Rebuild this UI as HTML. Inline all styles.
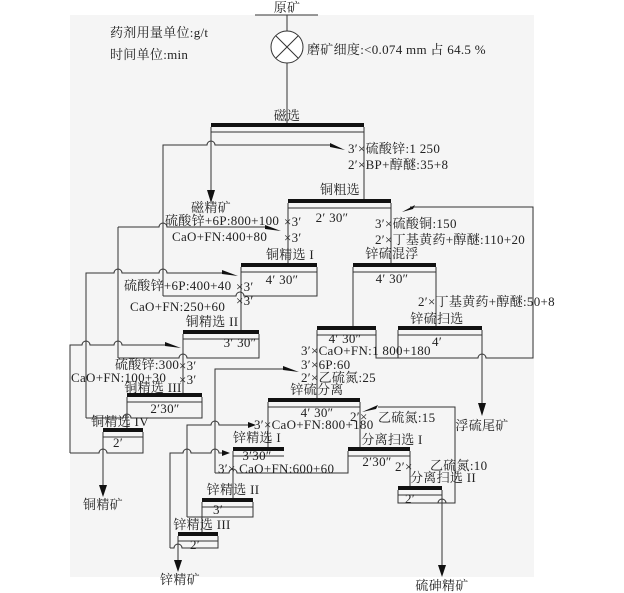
<!DOCTYPE html>
<html><head><meta charset="utf-8"><style>
html,body{margin:0;padding:0;background:#fff}
svg{display:block}
text{font-family:"Liberation Serif","Noto Serif CJK SC",serif;font-size:13px;letter-spacing:0.3px;fill:#222}
.m{text-anchor:middle}
</style></head><body>
<svg width="624" height="593" viewBox="0 0 624 593" xmlns="http://www.w3.org/2000/svg">
<rect x="70" y="15" width="464" height="562" fill="#f5f5f5"/>
<g fill="none" stroke="#333" stroke-width="1">
<path d="M255 15H318M287 15V31M287 63V123"/>
<circle cx="287" cy="47" r="16" fill="#fff"/>
<path d="M276 36L298 58M298 36L276 58"/>
<path d="M163 296V145H207A4 4 0 0 1 215 145H330"/>
<path d="M211 127V192M364 127V199"/>
<path d="M288 203V263M391 203V263"/>
<path d="M241 267V330M317 267V296H244A4 4 0 0 0 236 296H163"/>
<path d="M118 227V358M118 227H159A4 4 0 0 1 167 227H268"/>
<path d="M86 418V273H114A4 4 0 0 1 122 273H159A4 4 0 0 1 167 273H225"/>
<path d="M259 334V358H187A4 4 0 0 0 179 358H118M183 334V393"/>
<path d="M70 453V345H82A4 4 0 0 1 90 345H114A4 4 0 0 1 122 345H167"/>
<path d="M202 397V418H131A4 4 0 0 0 123 418H86M127 397V428"/>
<path d="M143 432V453H107A4 4 0 0 0 99 453H70M103 432V488"/>
<path d="M353 267V326M436 267V326M317 330V398"/>
<path d="M376 330V358H478A4 4 0 0 1 486 358H533V207H410"/>
<path d="M398 330V358M482 330V405"/>
<path d="M268 402V447M360 402V447"/>
<path d="M215 473V369H286"/>
<path d="M187 517V425H211A4 4 0 0 1 219 425H252"/>
<path d="M233 451V498M348 451V473H237A4 4 0 0 0 229 473H215"/>
<path d="M170 548V453H183A4 4 0 0 1 191 453H211A4 4 0 0 1 219 453H225"/>
<path d="M253 502V517H187M202 502V532"/>
<path d="M218 536V548H182A4 4 0 0 0 174 548H170M178 536V563"/>
<path d="M410 451V486M442 490V565"/>
<path d="M398 490V503H446A4 4 0 0 0 438 503M446 503H455V407H378"/>
<path d="M211 132H364M288 208H391M241 272H317M353 272H436M183 339H259M317 335H376M398 335H482M127 402H202M268 407H360M103 437H143M233 456H284M348 456H410M202 507H253M398 495H442M178 541H218"/>
</g>
<g fill="#111">
<rect x="211" y="123" width="153" height="4"/>
<rect x="288" y="199" width="103" height="4"/>
<rect x="241" y="263" width="76" height="4"/>
<rect x="353" y="263" width="83" height="4"/>
<rect x="183" y="330" width="76" height="4"/>
<rect x="317" y="326" width="59" height="4"/>
<rect x="398" y="326" width="84" height="4"/>
<rect x="127" y="393" width="75" height="4"/>
<rect x="268" y="398" width="92" height="4"/>
<rect x="103" y="428" width="40" height="4"/>
<rect x="233" y="447" width="51" height="4"/>
<rect x="348" y="447" width="62" height="4"/>
<rect x="202" y="498" width="51" height="4"/>
<rect x="398" y="486" width="44" height="4"/>
<rect x="178" y="532" width="40" height="4"/>
<polygon points="330,143 345,150 330,147"/>
<polygon points="207,190 215,190 211,203"/>
<polygon points="265,225 281,231 265,229"/>
<polygon points="222,270 238,276 222,274"/>
<polygon points="165,342 181,348 165,346"/>
<polygon points="99,485 107,485 103,497"/>
<polygon points="415,205 402,212 413,209"/>
<polygon points="478,403 486,403 482,416"/>
<polygon points="283,366 299,372 283,370"/>
<polygon points="248,422 256,425 248,428"/>
<polygon points="222,450 230,453 222,456"/>
<polygon points="174,560 182,560 178,572"/>
<polygon points="438,565 446,565 442,577"/>
<polygon points="378,405 362,412 376,409"/>
</g>
<text class="m" x="287" y="12">原矿</text>
<text x="110" y="37">药剂用量单位:g/t</text>
<text x="110" y="59">时间单位:min</text>
<text x="307" y="54">磨矿细度:&lt;0.074 mm 占 64.5 %</text>
<text class="m" x="287" y="120">磁选</text>
<text x="348" y="153">3′×硫酸锌:1 250</text>
<text x="348" y="169">2′×BP+醇醚:35+8</text>
<text class="m" x="340" y="194">铜粗选</text>
<text class="m" x="332" y="222">2′ 30″</text>
<text class="m" x="211" y="212">磁精矿</text>
<text x="165" y="225">硫酸锌+6P:800+100</text>
<text x="172" y="241">CaO+FN:400+80</text>
<text x="284" y="226">×3′</text>
<text x="284" y="242">×3′</text>
<text x="375" y="228">3′×硫酸铜:150</text>
<text x="375" y="244">2′×丁基黄药+醇醚:110+20</text>
<text class="m" x="290" y="259">铜精选 I</text>
<text class="m" x="282" y="284">4′ 30″</text>
<text class="m" x="392" y="258">锌硫混浮</text>
<text class="m" x="392" y="283">4′ 30″</text>
<text x="124" y="290">硫酸锌+6P:400+40</text>
<text x="236" y="291">×3′</text>
<text x="236" y="305">×3′</text>
<text x="130" y="311">CaO+FN:250+60</text>
<text x="418" y="306">2′×丁基黄药+醇醚:50+8</text>
<text class="m" x="212" y="326">铜精选 II</text>
<text class="m" x="240" y="347">3′ 30″</text>
<text class="m" x="437" y="323">锌硫扫选</text>
<text class="m" x="437" y="346">4′</text>
<text class="m" x="345" y="343">4′ 30″</text>
<text x="301" y="355">3′×CaO+FN:1 800+180</text>
<text x="301" y="369">3′×6P:60</text>
<text x="301" y="382">2′×乙硫氮:25</text>
<text x="115" y="369">硫酸锌:300</text>
<text x="179" y="370">×3′</text>
<text x="179" y="384">×3′</text>
<text x="71" y="382">CaO+FN:100+30</text>
<text class="m" x="153" y="392">铜精选 III</text>
<text class="m" x="165" y="413">2′30″</text>
<text class="m" x="317" y="394">锌硫分离</text>
<text class="m" x="317" y="417">4′ 30″</text>
<text x="350" y="421">2′×</text>
<text x="378" y="422">乙硫氮:15</text>
<text class="m" x="120" y="426">铜精选 IV</text>
<text class="m" x="118" y="447">2′</text>
<text class="m" x="482" y="430">浮硫尾矿</text>
<text x="254" y="429">3′×CaO+FN:800+180</text>
<text class="m" x="257" y="442">锌精选 I</text>
<text class="m" x="257" y="460">3′30″</text>
<text class="m" x="392" y="444">分离扫选 I</text>
<text class="m" x="377" y="466">2′30″</text>
<text x="218" y="473">3′× CaO+FN:600+60</text>
<text x="395" y="471">2′×</text>
<text x="430" y="470">乙硫氮:10</text>
<text class="m" x="443" y="482">分离扫选 II</text>
<text class="m" x="410" y="503">2′</text>
<text class="m" x="233" y="494">锌精选 II</text>
<text class="m" x="218" y="514">3′</text>
<text class="m" x="103" y="509">铜精矿</text>
<text class="m" x="202" y="529">锌精选 III</text>
<text class="m" x="195" y="549">2′</text>
<text class="m" x="180" y="584">锌精矿</text>
<text class="m" x="442" y="590">硫砷精矿</text>
</svg>
</body></html>
